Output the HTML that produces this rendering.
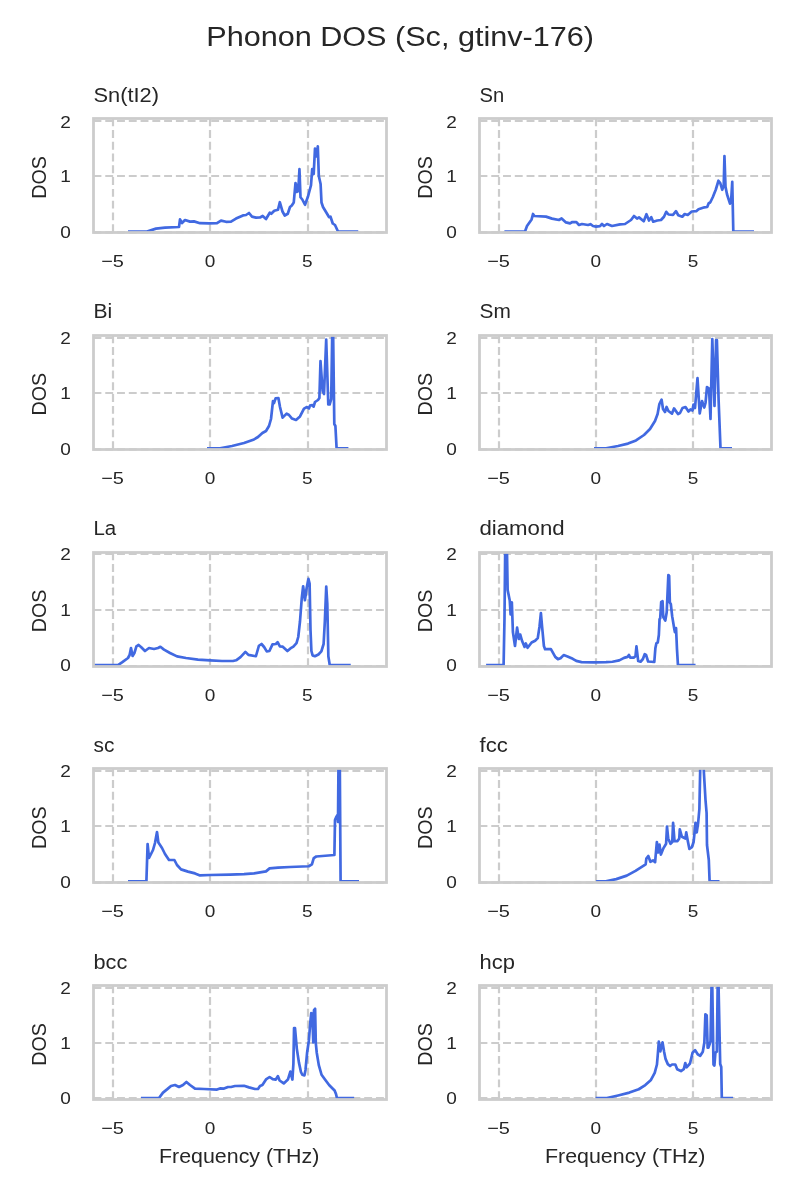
<!DOCTYPE html>
<html lang="en"><head><meta charset="utf-8"><title>Phonon DOS (Sc, gtinv-176)</title>
<style>
html,body{margin:0;padding:0;background:#ffffff;}
body{width:800px;height:1200px;overflow:hidden;}
svg{display:block;will-change:transform;filter:grayscale(0);}
text{font-family:"Liberation Sans",sans-serif;fill:#262626;}
.tk{font-size:17px;}
.lb{font-size:19.9px;}
.tt{font-size:19.9px;}
.st{font-size:28.4px;}
.g{stroke:#cccccc;stroke-width:2.2;stroke-dasharray:7.9 3.87;fill:none;}
.sp{stroke:#cccccc;stroke-width:2.78;fill:none;stroke-linejoin:miter;}
.ln{stroke:#4169e1;stroke-width:2.7;fill:none;stroke-linejoin:round;stroke-linecap:butt;}
</style></head><body>
<svg width="800" height="1200" viewBox="0 0 800 1200">
<rect x="0" y="0" width="800" height="1200" fill="#ffffff"/>
<defs>
<clipPath id="c0"><rect x="93.5" y="118.5" width="293" height="114"/></clipPath>
<clipPath id="c1"><rect x="479.5" y="118.5" width="292" height="114"/></clipPath>
<clipPath id="c2"><rect x="93.5" y="335.5" width="293" height="114"/></clipPath>
<clipPath id="c3"><rect x="479.5" y="335.5" width="292" height="114"/></clipPath>
<clipPath id="c4"><rect x="93.5" y="552.5" width="293" height="114"/></clipPath>
<clipPath id="c5"><rect x="479.5" y="552.5" width="292" height="114"/></clipPath>
<clipPath id="c6"><rect x="93.5" y="768.5" width="293" height="114"/></clipPath>
<clipPath id="c7"><rect x="479.5" y="768.5" width="292" height="114"/></clipPath>
<clipPath id="c8"><rect x="93.5" y="985.5" width="293" height="114"/></clipPath>
<clipPath id="c9"><rect x="479.5" y="985.5" width="292" height="114"/></clipPath>
</defs>
<text class="st" x="400.1" y="45.6" text-anchor="middle" textLength="387.75" lengthAdjust="spacingAndGlyphs">Phonon DOS (Sc, gtinv-176)</text>
<g>
<path class="g" d="M113 232.1V118.5"/>
<path class="g" d="M210 232.1V118.5"/>
<path class="g" d="M308 232.1V118.5"/>
<path class="g" d="M93.5 232.3H386.5"/>
<path class="g" d="M93.5 176H386.5"/>
<path class="g" d="M93.5 121H386.5"/>
<path class="ln" clip-path="url(#c0)" d="M128 231.5L147 231.5L156 228.6L165 227.6L179 227L180 219.4L182 223L185 220L190 221.6L194 221.4L200 223.2L209 223.4L217 223.2L221 220.6L226 221.8L231 221.6L236 218.6L243 215.4L246 215L249 213L252 216.6L256 217.6L260 217.5L262.7 216L266 219L269.75 212.7L271.25 213.75L274.25 210.75L278 209.7L279.8 202.2L282.5 211.5L284.75 215.5L287.75 213.75L290 207L291.8 205.5L293.75 202.5L295.5 183L296.75 192L297.5 184.5L298.25 191.25L299.45 169.2L300.5 197.25L302.3 199.5L305 204.75L308 196.5L311 185.25L312.2 169.2L313.7 174L315 148.5L316.5 156.5L317.8 146.3L318.8 176L320.6 184L321.5 202.5L323 207L325.25 210.75L327.5 214.5L329 217.2L330.5 216.75L332.75 223.5L335 225L338 231.5L339.5 231.5L358.25 231.5"/>
<rect class="sp" x="93.5" y="118.5" width="293" height="114"/>
<text class="tt" x="93.5" y="101.75" textLength="65.55" lengthAdjust="spacingAndGlyphs">Sn(tI2)</text>
<text class="tk" x="70.9" y="238.05" text-anchor="end" textLength="10.6" lengthAdjust="spacingAndGlyphs">0</text>
<text class="tk" x="70.9" y="182.15" text-anchor="end" textLength="10.6" lengthAdjust="spacingAndGlyphs">1</text>
<text class="tk" x="70.9" y="127.65" text-anchor="end" textLength="10.6" lengthAdjust="spacingAndGlyphs">2</text>
<text class="tk" x="112.6" y="267.1" text-anchor="middle" textLength="22.77" lengthAdjust="spacingAndGlyphs">−5</text>
<text class="tk" x="210" y="267.1" text-anchor="middle" textLength="10.6" lengthAdjust="spacingAndGlyphs">0</text>
<text class="tk" x="307.4" y="267.1" text-anchor="middle" textLength="10.6" lengthAdjust="spacingAndGlyphs">5</text>
<text class="lb" transform="translate(46.2 177.5) rotate(-90)" text-anchor="middle" textLength="42.61" lengthAdjust="spacingAndGlyphs">DOS</text>
</g>
<g>
<path class="g" d="M499 232.1V118.5"/>
<path class="g" d="M596 232.1V118.5"/>
<path class="g" d="M693 232.1V118.5"/>
<path class="g" d="M479.5 232.3H771.5"/>
<path class="g" d="M479.5 176H771.5"/>
<path class="g" d="M479.5 121H771.5"/>
<path class="ln" clip-path="url(#c1)" d="M504.4 231.5L525 231.5L527 226L531.6 219.4L533 214L534.4 216L546 216.6L552 218.6L559 220L561.6 218.4L566 222.4L570 223.4L572.4 222L576.4 222.2L579 225L582 224L588 225L590.4 224.2L593 226L596 226.6L600 226.2L602 224L604 226L607 224L612 226L620 224.4L625 224L631 220L634 216L637 218.6L639 217.4L643.75 221.25L646.45 214.2L649 220.5L651.25 217.2L653.2 221.7L657.25 220.5L661 220L664 216.75L666.25 211.8L668.5 214.5L673 214.8L676 211.2L678.25 215.25L682.3 216.75L684.7 214L687.7 215L691.75 211.5L696.25 211.2L698.5 209.25L704.5 207.3L707.2 207L708.7 203.25L710.2 202.5L712.75 197.25L715.75 189.75L718.45 180.75L720.25 183L722.2 189.75L723.7 186L724.45 156L725.5 186.75L727 194.25L730 203.7L731.2 199.5L732.25 181.8L733.3 231.5L754 231.5"/>
<rect class="sp" x="479.5" y="118.5" width="292" height="114"/>
<text class="tt" x="479.5" y="101.75" textLength="24.67" lengthAdjust="spacingAndGlyphs">Sn</text>
<text class="tk" x="456.9" y="238.05" text-anchor="end" textLength="10.6" lengthAdjust="spacingAndGlyphs">0</text>
<text class="tk" x="456.9" y="182.15" text-anchor="end" textLength="10.6" lengthAdjust="spacingAndGlyphs">1</text>
<text class="tk" x="456.9" y="127.65" text-anchor="end" textLength="10.6" lengthAdjust="spacingAndGlyphs">2</text>
<text class="tk" x="498.6" y="267.1" text-anchor="middle" textLength="22.77" lengthAdjust="spacingAndGlyphs">−5</text>
<text class="tk" x="595.9" y="267.1" text-anchor="middle" textLength="10.6" lengthAdjust="spacingAndGlyphs">0</text>
<text class="tk" x="693.1" y="267.1" text-anchor="middle" textLength="10.6" lengthAdjust="spacingAndGlyphs">5</text>
<text class="lb" transform="translate(432.2 177.5) rotate(-90)" text-anchor="middle" textLength="42.61" lengthAdjust="spacingAndGlyphs">DOS</text>
</g>
<g>
<path class="g" d="M113 449.1V335.5"/>
<path class="g" d="M210 449.1V335.5"/>
<path class="g" d="M308 449.1V335.5"/>
<path class="g" d="M93.5 449.3H386.5"/>
<path class="g" d="M93.5 393H386.5"/>
<path class="g" d="M93.5 338H386.5"/>
<path class="ln" clip-path="url(#c2)" d="M207 448.25L220 448.25L232 446L244 443L254 439.4L258 437L262.4 433L266 431L269 426L271 419L273 401L274 403L275.6 398.4L278.4 398L280 407L282.6 417.6L286.6 413.6L289 415L292 418.6L296 420L300 416.4L304 408.6L307 407L309 408.4L310 405.6L312.4 405L313.6 406.6L315 402L318 400L319.4 398L320.5 361L322.6 391L324 394L326.2 339.5L328.3 404.5L329.6 404.5L331.2 399L332.45 320L332.95 320L334.3 424L335.4 426L336.6 448.25L348.4 448.25"/>
<rect class="sp" x="93.5" y="335.5" width="293" height="114"/>
<text class="tt" x="93.5" y="318.47" textLength="18.74" lengthAdjust="spacingAndGlyphs">Bi</text>
<text class="tk" x="70.9" y="454.95" text-anchor="end" textLength="10.6" lengthAdjust="spacingAndGlyphs">0</text>
<text class="tk" x="70.9" y="399.25" text-anchor="end" textLength="10.6" lengthAdjust="spacingAndGlyphs">1</text>
<text class="tk" x="70.9" y="344.15" text-anchor="end" textLength="10.6" lengthAdjust="spacingAndGlyphs">2</text>
<text class="tk" x="112.6" y="483.82" text-anchor="middle" textLength="22.77" lengthAdjust="spacingAndGlyphs">−5</text>
<text class="tk" x="210" y="483.82" text-anchor="middle" textLength="10.6" lengthAdjust="spacingAndGlyphs">0</text>
<text class="tk" x="307.4" y="483.82" text-anchor="middle" textLength="10.6" lengthAdjust="spacingAndGlyphs">5</text>
<text class="lb" transform="translate(46.2 394.22) rotate(-90)" text-anchor="middle" textLength="42.61" lengthAdjust="spacingAndGlyphs">DOS</text>
</g>
<g>
<path class="g" d="M499 449.1V335.5"/>
<path class="g" d="M596 449.1V335.5"/>
<path class="g" d="M693 449.1V335.5"/>
<path class="g" d="M479.5 449.3H771.5"/>
<path class="g" d="M479.5 393H771.5"/>
<path class="g" d="M479.5 338H771.5"/>
<path class="ln" clip-path="url(#c3)" d="M594 448.25L606 448.25L618 446L628 443.6L636 440.4L644 435L650 429L655 421L657.6 414L659.4 404L661.6 399.6L663 409L665 412L666.6 407L668.4 411L672 413.6L674 408.4L678 414L680 413L682.5 408L685.5 407L688.5 411.5L690.5 409.5L692.5 410.5L693.5 404.5L695 408L697.5 378L699.7 413.5L702 401L704.3 407.5L705.5 403L707 387L709 388.5L710.5 419L712.3 339L714.5 406L716.1 340L716.9 340L718.6 400L720.5 448.25L732 448.25"/>
<rect class="sp" x="479.5" y="335.5" width="292" height="114"/>
<text class="tt" x="479.5" y="318.47" textLength="31.28" lengthAdjust="spacingAndGlyphs">Sm</text>
<text class="tk" x="456.9" y="454.95" text-anchor="end" textLength="10.6" lengthAdjust="spacingAndGlyphs">0</text>
<text class="tk" x="456.9" y="399.25" text-anchor="end" textLength="10.6" lengthAdjust="spacingAndGlyphs">1</text>
<text class="tk" x="456.9" y="344.15" text-anchor="end" textLength="10.6" lengthAdjust="spacingAndGlyphs">2</text>
<text class="tk" x="498.6" y="483.82" text-anchor="middle" textLength="22.77" lengthAdjust="spacingAndGlyphs">−5</text>
<text class="tk" x="595.9" y="483.82" text-anchor="middle" textLength="10.6" lengthAdjust="spacingAndGlyphs">0</text>
<text class="tk" x="693.1" y="483.82" text-anchor="middle" textLength="10.6" lengthAdjust="spacingAndGlyphs">5</text>
<text class="lb" transform="translate(432.2 394.22) rotate(-90)" text-anchor="middle" textLength="42.61" lengthAdjust="spacingAndGlyphs">DOS</text>
</g>
<g>
<path class="g" d="M113 666.1V552.5"/>
<path class="g" d="M210 666.1V552.5"/>
<path class="g" d="M308 666.1V552.5"/>
<path class="g" d="M93.5 666H386.5"/>
<path class="g" d="M93.5 610H386.5"/>
<path class="g" d="M93.5 554H386.5"/>
<path class="ln" clip-path="url(#c4)" d="M90 665.1L118 665.1L122 662.4L128 658L129.6 655L131 648L132.6 656L134.4 653L136.4 646.4L138.6 645L141 647L145 651L149 648L154 649L158 648L160.4 646.8L164 649.6L170 653L177 656.4L186 658L198 659.6L210 660.4L222 661L233 661L236.1 660.3L240.5 657.1L245.4 651.9L248.4 654.9L255.9 656.25L258.9 645.75L261.5 644L264.1 647L266.75 651.35L269.4 651L272.5 644.35L275.85 644L277.6 642.25L279.9 646.3L282.5 646.6L287.4 651L290.4 648.4L293.35 646.6L296.5 643.1L298.25 637L300 621.25L301.75 598.5L303.15 586.25L304.9 600.25L306.65 588L308.4 578.9L309.6 583.6L310.5 630L311.4 651L312.6 655.4L314.9 656.25L318.4 654.5L321.35 651.35L323.6 644L324.85 621.25L326.25 586.6L327.3 603.75L328.35 656.25L329.75 665.1L350.75 665.1"/>
<rect class="sp" x="93.5" y="552.5" width="293" height="114"/>
<text class="tt" x="93.5" y="535.19" textLength="22.74" lengthAdjust="spacingAndGlyphs">La</text>
<text class="tk" x="70.9" y="670.85" text-anchor="end" textLength="10.6" lengthAdjust="spacingAndGlyphs">0</text>
<text class="tk" x="70.9" y="615.95" text-anchor="end" textLength="10.6" lengthAdjust="spacingAndGlyphs">1</text>
<text class="tk" x="70.9" y="560.15" text-anchor="end" textLength="10.6" lengthAdjust="spacingAndGlyphs">2</text>
<text class="tk" x="112.6" y="700.54" text-anchor="middle" textLength="22.77" lengthAdjust="spacingAndGlyphs">−5</text>
<text class="tk" x="210" y="700.54" text-anchor="middle" textLength="10.6" lengthAdjust="spacingAndGlyphs">0</text>
<text class="tk" x="307.4" y="700.54" text-anchor="middle" textLength="10.6" lengthAdjust="spacingAndGlyphs">5</text>
<text class="lb" transform="translate(46.2 610.94) rotate(-90)" text-anchor="middle" textLength="42.61" lengthAdjust="spacingAndGlyphs">DOS</text>
</g>
<g>
<path class="g" d="M499 666.1V552.5"/>
<path class="g" d="M596 666.1V552.5"/>
<path class="g" d="M693 666.1V552.5"/>
<path class="g" d="M479.5 666H771.5"/>
<path class="g" d="M479.5 610H771.5"/>
<path class="g" d="M479.5 554H771.5"/>
<path class="ln" clip-path="url(#c5)" d="M486.1 665.1L503.6 665.1L504.5 618L505.4 530L506.6 530L507.65 590L509.75 600.5L510.6 614.5L511.85 602.25L512.9 632L515 646L517.1 627.6L518.85 639L520.25 634.6L522 640.75L524.6 646.9L525.85 643.4L527.6 647.75L531.6 642.5L535.1 640.75L537.75 638.1L539.5 626.75L540.9 613.1L542.1 626.75L543.9 646L545.1 649.15L550.9 649.15L552.6 652.1L555.25 656.85L557.9 659.1L560.5 658.25L563.65 655.1L567.5 656.5L572.75 658.8L576.25 660.9L581.5 662.1L593.75 662.45L606 662.1L612.4 661.75L619.25 660.4L624.05 657.9L627.5 656.9L628.9 654.9L630.25 657.6L633.7 657.6L635.5 656.25L636.45 646.35L638.2 661.05L640.55 661.75L642.9 659L644.7 654.2L646.05 654.9L648.1 661.5L654.3 662L655.4 648L656.4 643.2L657.75 642.5L658.85 635L659.55 619.1L660.2 618.4L661.2 601.9L662.55 601.25L663.25 617.05L665.3 620.5L666.7 612.25L668.35 575.1L669.15 575.8L669.85 602.6L670.8 604L672.2 616.4L674.25 628.75L674.95 632.2L676.05 628.05L677 649.4L677.95 665.1L695.55 665.1"/>
<rect class="sp" x="479.5" y="552.5" width="292" height="114"/>
<text class="tt" x="479.5" y="535.19" textLength="85.17" lengthAdjust="spacingAndGlyphs">diamond</text>
<text class="tk" x="456.9" y="670.85" text-anchor="end" textLength="10.6" lengthAdjust="spacingAndGlyphs">0</text>
<text class="tk" x="456.9" y="615.95" text-anchor="end" textLength="10.6" lengthAdjust="spacingAndGlyphs">1</text>
<text class="tk" x="456.9" y="560.15" text-anchor="end" textLength="10.6" lengthAdjust="spacingAndGlyphs">2</text>
<text class="tk" x="498.6" y="700.54" text-anchor="middle" textLength="22.77" lengthAdjust="spacingAndGlyphs">−5</text>
<text class="tk" x="595.9" y="700.54" text-anchor="middle" textLength="10.6" lengthAdjust="spacingAndGlyphs">0</text>
<text class="tk" x="693.1" y="700.54" text-anchor="middle" textLength="10.6" lengthAdjust="spacingAndGlyphs">5</text>
<text class="lb" transform="translate(432.2 610.94) rotate(-90)" text-anchor="middle" textLength="42.61" lengthAdjust="spacingAndGlyphs">DOS</text>
</g>
<g>
<path class="g" d="M113 882.1V768.5"/>
<path class="g" d="M210 882.1V768.5"/>
<path class="g" d="M308 882.1V768.5"/>
<path class="g" d="M93.5 882.7H386.5"/>
<path class="g" d="M93.5 826H386.5"/>
<path class="g" d="M93.5 771H386.5"/>
<path class="ln" clip-path="url(#c6)" d="M128 881.3L146.4 881.3L147.6 844L149 858L153 850L155 843L157 832L158.4 842.6L162 848L165 854L169 860L174.4 860L177 865L181 869.4L188 871.6L195 873.4L200 875.4L210 875L230 874.6L244 874.2L254 873.4L266 871.4L269.6 868.4L278 867.6L290 867L308.75 866.25L311.9 864.4L313.75 858.1L316.25 856.5L334.4 855L335 820L336.25 816.9L337.5 815L338 822L338.6 750L339.7 750L340.6 881.3L359 881.3"/>
<rect class="sp" x="93.5" y="768.5" width="293" height="114"/>
<text class="tt" x="93.5" y="751.91" textLength="20.82" lengthAdjust="spacingAndGlyphs">sc</text>
<text class="tk" x="70.9" y="887.75" text-anchor="end" textLength="10.6" lengthAdjust="spacingAndGlyphs">0</text>
<text class="tk" x="70.9" y="832.1" text-anchor="end" textLength="10.6" lengthAdjust="spacingAndGlyphs">1</text>
<text class="tk" x="70.9" y="777.05" text-anchor="end" textLength="10.6" lengthAdjust="spacingAndGlyphs">2</text>
<text class="tk" x="112.6" y="917.26" text-anchor="middle" textLength="22.77" lengthAdjust="spacingAndGlyphs">−5</text>
<text class="tk" x="210" y="917.26" text-anchor="middle" textLength="10.6" lengthAdjust="spacingAndGlyphs">0</text>
<text class="tk" x="307.4" y="917.26" text-anchor="middle" textLength="10.6" lengthAdjust="spacingAndGlyphs">5</text>
<text class="lb" transform="translate(46.2 827.66) rotate(-90)" text-anchor="middle" textLength="42.61" lengthAdjust="spacingAndGlyphs">DOS</text>
</g>
<g>
<path class="g" d="M499 882.1V768.5"/>
<path class="g" d="M596 882.1V768.5"/>
<path class="g" d="M693 882.1V768.5"/>
<path class="g" d="M479.5 882.7H771.5"/>
<path class="g" d="M479.5 826H771.5"/>
<path class="g" d="M479.5 771H771.5"/>
<path class="ln" clip-path="url(#c7)" d="M596.1 881.3L605.75 881.3L616.25 879.1L626.75 875.6L635.5 870.9L645.65 864.4L646.35 858.6L648.3 856L650.4 861.8L653 860.4L655.1 862.1L656.85 842L658.25 852.5L659.5 844.6L660.9 854.6L663.5 848.1L666.1 843.75L667 826.6L668.2 838.5L670.5 843.75L672.25 842L673.1 822.75L674.5 841.1L677.5 841.1L679.25 838.5L679.8 829.4L681.9 836.75L685.4 838.5L686.25 832.4L687.65 840.25L689.4 849L691.85 847.25L693.6 842L694.65 831.5L695.5 822.75L696.75 832.4L698.15 822.75L699.4 808.75L700.6 750L702.9 750L703.75 770L705.5 800L706.6 813L707 845L708.8 860L709.6 881.3L719.5 881.3"/>
<rect class="sp" x="479.5" y="768.5" width="292" height="114"/>
<text class="tt" x="479.5" y="751.91" textLength="28.23" lengthAdjust="spacingAndGlyphs">fcc</text>
<text class="tk" x="456.9" y="887.75" text-anchor="end" textLength="10.6" lengthAdjust="spacingAndGlyphs">0</text>
<text class="tk" x="456.9" y="832.1" text-anchor="end" textLength="10.6" lengthAdjust="spacingAndGlyphs">1</text>
<text class="tk" x="456.9" y="777.05" text-anchor="end" textLength="10.6" lengthAdjust="spacingAndGlyphs">2</text>
<text class="tk" x="498.6" y="917.26" text-anchor="middle" textLength="22.77" lengthAdjust="spacingAndGlyphs">−5</text>
<text class="tk" x="595.9" y="917.26" text-anchor="middle" textLength="10.6" lengthAdjust="spacingAndGlyphs">0</text>
<text class="tk" x="693.1" y="917.26" text-anchor="middle" textLength="10.6" lengthAdjust="spacingAndGlyphs">5</text>
<text class="lb" transform="translate(432.2 827.66) rotate(-90)" text-anchor="middle" textLength="42.61" lengthAdjust="spacingAndGlyphs">DOS</text>
</g>
<g>
<path class="g" d="M113 1099.1V985.5"/>
<path class="g" d="M210 1099.1V985.5"/>
<path class="g" d="M308 1099.1V985.5"/>
<path class="g" d="M93.5 1098H386.5"/>
<path class="g" d="M93.5 1043H386.5"/>
<path class="g" d="M93.5 988H386.5"/>
<path class="ln" clip-path="url(#c8)" d="M141 1098.05L159 1098.05L163 1092.6L167 1089.4L171 1086L175 1085L179 1087L183 1085L186.4 1082L190 1085L195 1088.6L204 1089L217 1089.6L220 1088.4L224 1088.6L228 1087L231 1087L235 1086L244 1085.8L249 1087.4L255 1089L258 1089L260 1086L262.4 1085L266 1079.4L269.6 1077L272.75 1079.15L275.8 1079.55L277.85 1076.1L279.6 1080.5L283.75 1083.4L287.9 1079.55L290.35 1071.6L292.4 1079.55L293.4 1063.75L294.05 1028L295 1028L296.8 1048.6L298.9 1062.4L300.95 1072L302.3 1074.75L304.4 1075.4L305.5 1069.9L307.1 1052.75L308.9 1040.4L310.3 1022.5L311.25 1013.15L312.2 1013.55L313.3 1042.4L314 1010.1L315.1 1008.75L315.8 1043.1L316.75 1052.75L318.8 1065.1L321.55 1074.75L325 1079.55L329.1 1085.05L332.55 1088.5L334.6 1090.55L336 1094L336.95 1098.05L354.15 1098.05"/>
<rect class="sp" x="93.5" y="985.5" width="293" height="114"/>
<text class="tt" x="93.5" y="968.63" textLength="33.73" lengthAdjust="spacingAndGlyphs">bcc</text>
<text class="tk" x="70.9" y="1103.75" text-anchor="end" textLength="10.6" lengthAdjust="spacingAndGlyphs">0</text>
<text class="tk" x="70.9" y="1049.1" text-anchor="end" textLength="10.6" lengthAdjust="spacingAndGlyphs">1</text>
<text class="tk" x="70.9" y="994.05" text-anchor="end" textLength="10.6" lengthAdjust="spacingAndGlyphs">2</text>
<text class="tk" x="112.6" y="1133.98" text-anchor="middle" textLength="22.77" lengthAdjust="spacingAndGlyphs">−5</text>
<text class="tk" x="210" y="1133.98" text-anchor="middle" textLength="10.6" lengthAdjust="spacingAndGlyphs">0</text>
<text class="tk" x="307.4" y="1133.98" text-anchor="middle" textLength="10.6" lengthAdjust="spacingAndGlyphs">5</text>
<text class="lb" transform="translate(46.2 1044.38) rotate(-90)" text-anchor="middle" textLength="42.61" lengthAdjust="spacingAndGlyphs">DOS</text>
<text class="lb" x="239.2" y="1163" text-anchor="middle" textLength="160.32" lengthAdjust="spacingAndGlyphs">Frequency (THz)</text>
</g>
<g>
<path class="g" d="M499 1099.1V985.5"/>
<path class="g" d="M596 1099.1V985.5"/>
<path class="g" d="M693 1099.1V985.5"/>
<path class="g" d="M479.5 1098H771.5"/>
<path class="g" d="M479.5 1043H771.5"/>
<path class="g" d="M479.5 988H771.5"/>
<path class="ln" clip-path="url(#c9)" d="M595.6 1098.05L606.9 1098.05L618.1 1095.45L629.4 1092.6L638.75 1089.25L645.3 1085.1L650.95 1079.9L654.7 1072.95L656.95 1064.5L657.9 1053.25L658.8 1041.6L660.3 1051.4L662.55 1042.4L664.05 1051.4L665.55 1058.9L667.8 1064.1L670.05 1066L672.1 1064.5L675.3 1064.5L677.2 1069.2L680.95 1071.05L683.75 1069.2L685.25 1063L686.55 1067.3L690 1063.5L692.55 1052.7L695.1 1050.15L697.7 1054.25L700.25 1055.8L702.8 1051.7L704.35 1042.5L705.4 1014.3L706.7 1015.3L707.65 1047.6L708.45 1047.6L710.5 1041.45L711.75 975L712.1 975L713.5 1064.5L714.4 1065.5L715.4 1052.7L716.85 1051.7L717.8 975L718.3 975L720.2 1064L721.25 1067L721.8 1098.05L733.05 1098.05"/>
<rect class="sp" x="479.5" y="985.5" width="292" height="114"/>
<text class="tt" x="479.5" y="968.63" textLength="35.36" lengthAdjust="spacingAndGlyphs">hcp</text>
<text class="tk" x="456.9" y="1103.75" text-anchor="end" textLength="10.6" lengthAdjust="spacingAndGlyphs">0</text>
<text class="tk" x="456.9" y="1049.1" text-anchor="end" textLength="10.6" lengthAdjust="spacingAndGlyphs">1</text>
<text class="tk" x="456.9" y="994.05" text-anchor="end" textLength="10.6" lengthAdjust="spacingAndGlyphs">2</text>
<text class="tk" x="498.6" y="1133.98" text-anchor="middle" textLength="22.77" lengthAdjust="spacingAndGlyphs">−5</text>
<text class="tk" x="595.9" y="1133.98" text-anchor="middle" textLength="10.6" lengthAdjust="spacingAndGlyphs">0</text>
<text class="tk" x="693.1" y="1133.98" text-anchor="middle" textLength="10.6" lengthAdjust="spacingAndGlyphs">5</text>
<text class="lb" transform="translate(432.2 1044.38) rotate(-90)" text-anchor="middle" textLength="42.61" lengthAdjust="spacingAndGlyphs">DOS</text>
<text class="lb" x="625.2" y="1163" text-anchor="middle" textLength="160.32" lengthAdjust="spacingAndGlyphs">Frequency (THz)</text>
</g>
</svg>
</body></html>
